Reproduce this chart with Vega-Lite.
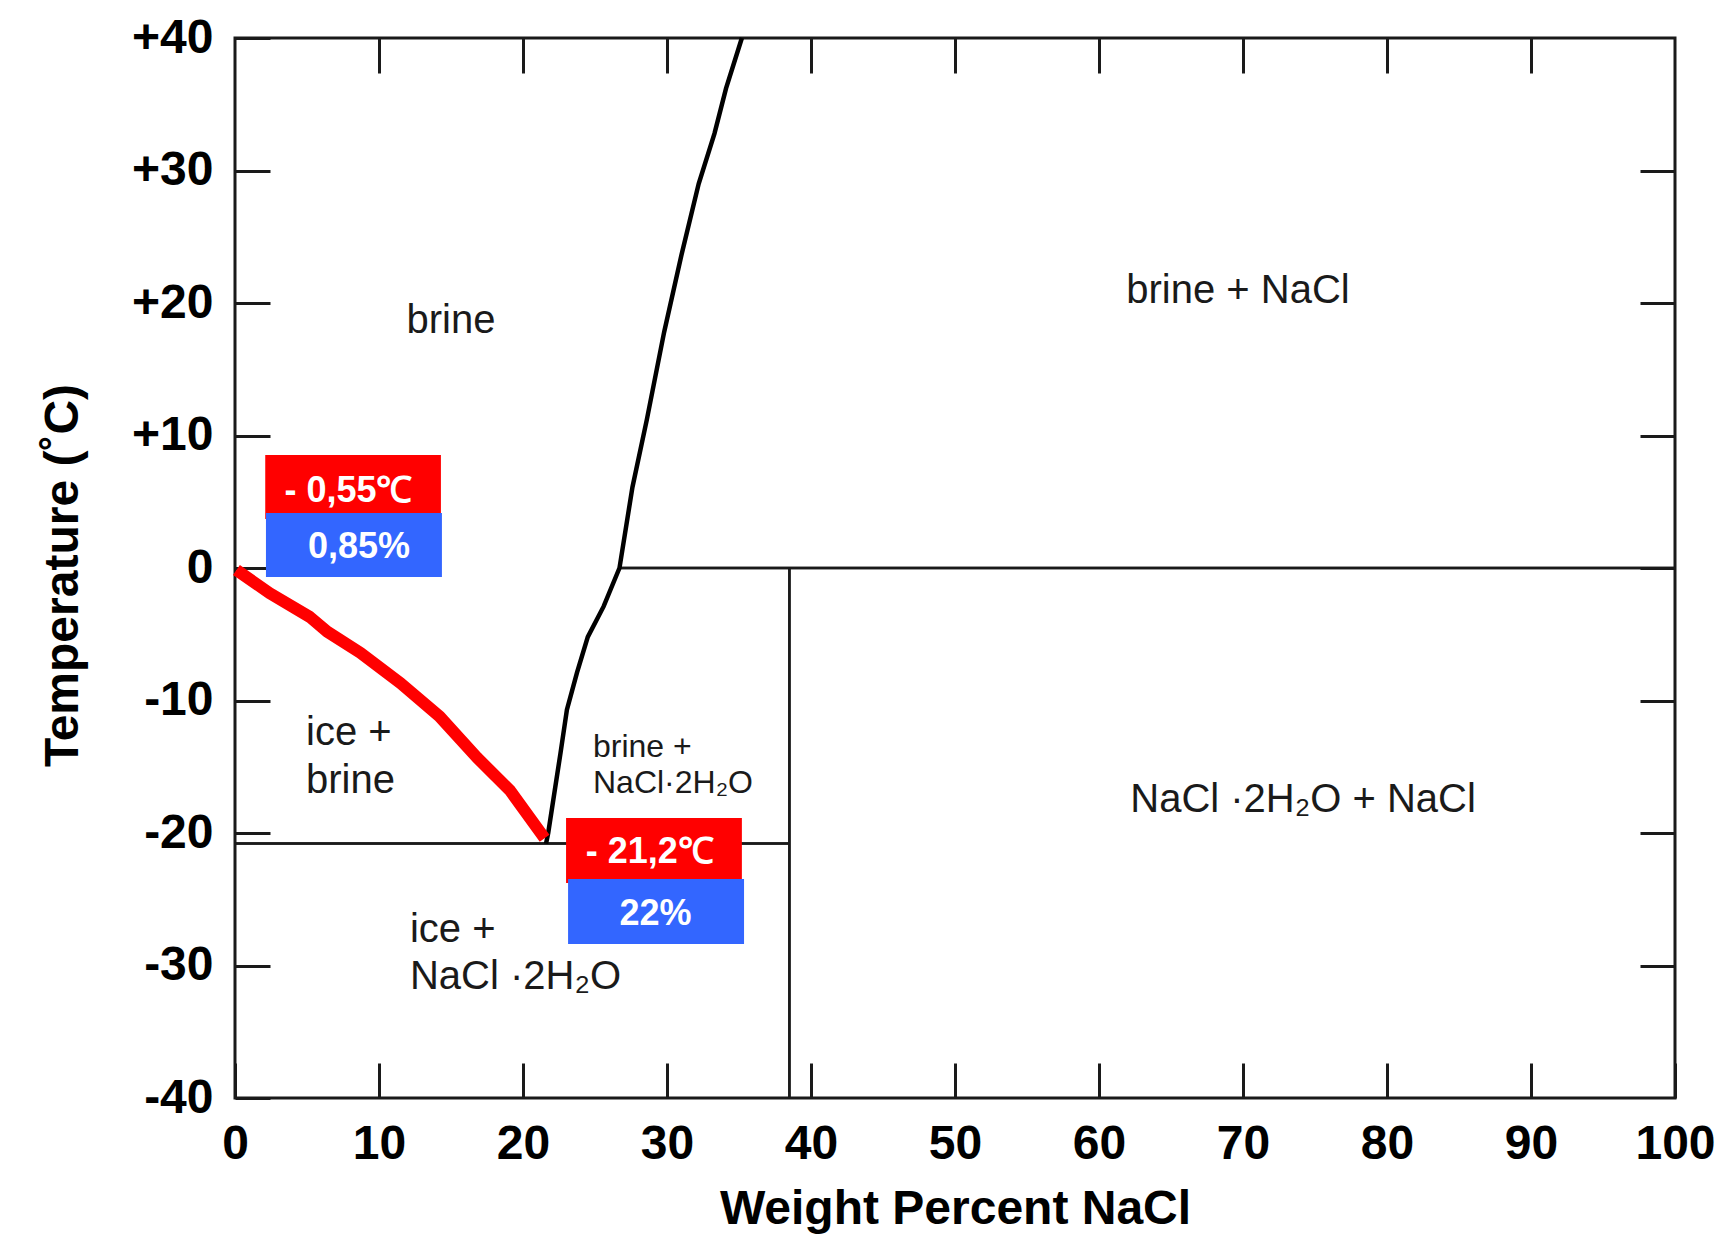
{
  "$schema": "https://vega.github.io/schema/vega-lite/v6.json",
  "width": 1440,
  "height": 1060,
  "autosize": {"type": "none"},
  "padding": {"left": 235, "top": 38, "right": 61, "bottom": 137},
  "background": "white",
  "config": {
    "view": {"stroke": "#1a1a1a", "strokeWidth": 3},
    "font": "Liberation Sans"
  },
  "datasets": {
    "phase": [
      {"x": 26.7, "x2": 100, "y": 0, "y2": 0},
      {"x": 0, "x2": 38.5, "y": -20.8, "y2": -20.8},
      {"x": 38.5, "x2": 38.5, "y": -40, "y2": 0}
    ],
    "solubility": [
      {"x": 21.6, "y": -20.8},
      {"x": 21.75, "y": -20.0},
      {"x": 22.6, "y": -14.0},
      {"x": 23.05, "y": -10.7},
      {"x": 23.75, "y": -7.9},
      {"x": 24.5, "y": -5.2},
      {"x": 25.6, "y": -2.9},
      {"x": 26.7, "y": 0},
      {"x": 27.6, "y": 6.1},
      {"x": 28.6, "y": 11.2},
      {"x": 29.8, "y": 17.8},
      {"x": 31.0, "y": 23.6},
      {"x": 32.2, "y": 29.0},
      {"x": 33.3, "y": 32.8},
      {"x": 34.1, "y": 36.2},
      {"x": 35.2, "y": 40}
    ],
    "freezing": [
      {"x": 0.1, "y": -0.15},
      {"x": 2.4, "y": -1.9},
      {"x": 5.2, "y": -3.7},
      {"x": 6.4, "y": -4.8},
      {"x": 8.7, "y": -6.4},
      {"x": 11.5, "y": -8.7},
      {"x": 14.2, "y": -11.2},
      {"x": 16.8, "y": -14.3},
      {"x": 19.1, "y": -16.8},
      {"x": 21.5, "y": -20.4}
    ],
    "boxes": [
      {"x": 2.1, "x2": 14.3, "y": 8.53, "y2": 3.7, "kind": "temp"},
      {"x": 2.15, "x2": 14.37, "y": 4.15, "y2": -0.68, "kind": "pct"},
      {"x": 22.99, "x2": 35.2, "y": -18.87, "y2": -23.77, "kind": "temp"},
      {"x": 23.13, "x2": 35.35, "y": -23.47, "y2": -28.38, "kind": "pct"}
    ],
    "boxlabels": [
      {"x": 7.88, "y": 4.98, "label": "- 0,55℃"},
      {"x": 8.61, "y": 0.75, "label": "0,85%"},
      {"x": 28.8, "y": -22.26, "label": "- 21,2℃"},
      {"x": 29.2, "y": -26.94, "label": "22%"}
    ],
    "centerlabels": [
      {"x": 15.0, "y": 17.74, "label": "brine"},
      {"x": 69.65, "y": 20.0, "label": "brine + NaCl"},
      {"x": 74.17, "y": -18.42, "label": "NaCl ·2H₂O + NaCl"}
    ],
    "leftlabels": [
      {"x": 4.93, "y": -13.36, "label": "ice +"},
      {"x": 4.93, "y": -16.98, "label": "brine"},
      {"x": 12.15, "y": -28.23, "label": "ice +"},
      {"x": 12.15, "y": -31.77, "label": "NaCl ·2H₂O"}
    ],
    "smalllabels": [
      {"x": 24.86, "y": -14.26, "label": "brine +"},
      {"x": 24.86, "y": -16.98, "label": "NaCl·2H₂O"}
    ]
  },
  "resolve": {"axis": {"x": "independent", "y": "independent"}},
  "layer": [
    {
      "data": {"name": "phase"},
      "mark": {"type": "rule", "color": "#1a1a1a", "strokeWidth": 2.5},
      "encoding": {
        "x": {
          "field": "x", "type": "quantitative",
          "scale": {"domain": [0, 100], "nice": false, "zero": false},
          "axis": {
            "orient": "bottom",
            "values": [0, 10, 20, 30, 40, 50, 60, 70, 80, 90, 100],
            "tickSize": -35, "tickWidth": 3, "tickColor": "#1a1a1a",
            "domain": false, "grid": false,
            "labelFont": "Liberation Sans", "labelFontSize": 48, "labelFontWeight": "bold",
            "labelColor": "#000000", "labelBaseline": "alphabetic", "labelPadding": 95,
            "labelFlush": false, "labelOverlap": false,
            "title": "Weight Percent NaCl",
            "titleFont": "Liberation Sans", "titleFontSize": 48, "titleFontWeight": "bold",
            "titleColor": "#000000", "titleX": 720, "titleY": 125,
            "titleBaseline": "alphabetic", "titleAlign": "center"
          }
        },
        "x2": {"field": "x2"},
        "y": {
          "field": "y", "type": "quantitative",
          "scale": {"domain": [-40, 40], "nice": false, "zero": false},
          "axis": {
            "orient": "left",
            "values": [-40, -30, -20, -10, 0, 10, 20, 30, 40],
            "tickSize": -35, "tickWidth": 3, "tickColor": "#1a1a1a",
            "domain": false, "grid": false,
            "labelFont": "Liberation Sans", "labelFontSize": 48, "labelFontWeight": "bold",
            "labelColor": "#000000", "labelBaseline": "middle", "labelAlign": "right",
            "labelPadding": 57, "labelFlush": false, "labelOverlap": false,
            "labelExpr": "datum.value > 0 ? '+' + datum.value : '' + datum.value",
            "title": "Temperature (˚C)",
            "titleFont": "Liberation Sans", "titleFontSize": 48, "titleFontWeight": "bold",
            "titleColor": "#000000", "titleAngle": 270, "titleX": -158, "titleY": 537,
            "titleBaseline": "alphabetic", "titleAlign": "center"
          }
        },
        "y2": {"field": "y2"}
      }
    },
    {
      "data": {"name": "phase"},
      "mark": {"type": "rule", "color": "#1a1a1a", "strokeWidth": 2.5},
      "encoding": {
        "x": {
          "field": "x", "type": "quantitative",
          "axis": {
            "orient": "top",
            "values": [10, 20, 30, 40, 50, 60, 70, 80, 90],
            "tickSize": -35, "tickWidth": 3, "tickColor": "#1a1a1a",
            "domain": false, "grid": false, "labels": false, "title": null
          }
        },
        "x2": {"field": "x2"},
        "y": {
          "field": "y", "type": "quantitative",
          "axis": {
            "orient": "right",
            "values": [-30, -20, -10, 0, 10, 20, 30],
            "tickSize": -35, "tickWidth": 3, "tickColor": "#1a1a1a",
            "domain": false, "grid": false, "labels": false, "title": null
          }
        },
        "y2": {"field": "y2"}
      }
    },
    {
      "data": {"name": "solubility"},
      "mark": {"type": "line", "color": "#000000", "strokeWidth": 4.5},
      "encoding": {
        "x": {"field": "x", "type": "quantitative", "axis": null},
        "y": {"field": "y", "type": "quantitative", "axis": null},
        "order": {"field": "y", "type": "quantitative"}
      }
    },
    {
      "data": {"name": "freezing"},
      "mark": {"type": "line", "color": "#ff0000", "strokeWidth": 12, "strokeCap": "butt", "strokeJoin": "round"},
      "encoding": {
        "x": {"field": "x", "type": "quantitative", "axis": null},
        "y": {"field": "y", "type": "quantitative", "axis": null}
      }
    },
    {
      "data": {"name": "boxes"},
      "mark": {"type": "rect"},
      "encoding": {
        "x": {"field": "x", "type": "quantitative", "axis": null},
        "x2": {"field": "x2"},
        "y": {"field": "y", "type": "quantitative", "axis": null},
        "y2": {"field": "y2"},
        "color": {
          "field": "kind", "type": "nominal",
          "scale": {"domain": ["temp", "pct"], "range": ["#ff0000", "#3366ff"]},
          "legend": null
        }
      }
    },
    {
      "data": {"name": "boxlabels"},
      "mark": {"type": "text", "color": "#ffffff", "font": "Liberation Sans", "fontSize": 36, "fontWeight": "bold", "align": "center", "baseline": "alphabetic"},
      "encoding": {
        "x": {"field": "x", "type": "quantitative", "axis": null},
        "y": {"field": "y", "type": "quantitative", "axis": null},
        "text": {"field": "label"}
      }
    },
    {
      "data": {"name": "centerlabels"},
      "mark": {"type": "text", "color": "#1a1a1a", "font": "Liberation Sans", "fontSize": 40, "align": "center", "baseline": "alphabetic"},
      "encoding": {
        "x": {"field": "x", "type": "quantitative", "axis": null},
        "y": {"field": "y", "type": "quantitative", "axis": null},
        "text": {"field": "label"}
      }
    },
    {
      "data": {"name": "leftlabels"},
      "mark": {"type": "text", "color": "#1a1a1a", "font": "Liberation Sans", "fontSize": 40, "align": "left", "baseline": "alphabetic"},
      "encoding": {
        "x": {"field": "x", "type": "quantitative", "axis": null},
        "y": {"field": "y", "type": "quantitative", "axis": null},
        "text": {"field": "label"}
      }
    },
    {
      "data": {"name": "smalllabels"},
      "mark": {"type": "text", "color": "#1a1a1a", "font": "Liberation Sans", "fontSize": 32, "align": "left", "baseline": "alphabetic"},
      "encoding": {
        "x": {"field": "x", "type": "quantitative", "axis": null},
        "y": {"field": "y", "type": "quantitative", "axis": null},
        "text": {"field": "label"}
      }
    }
  ]
}
